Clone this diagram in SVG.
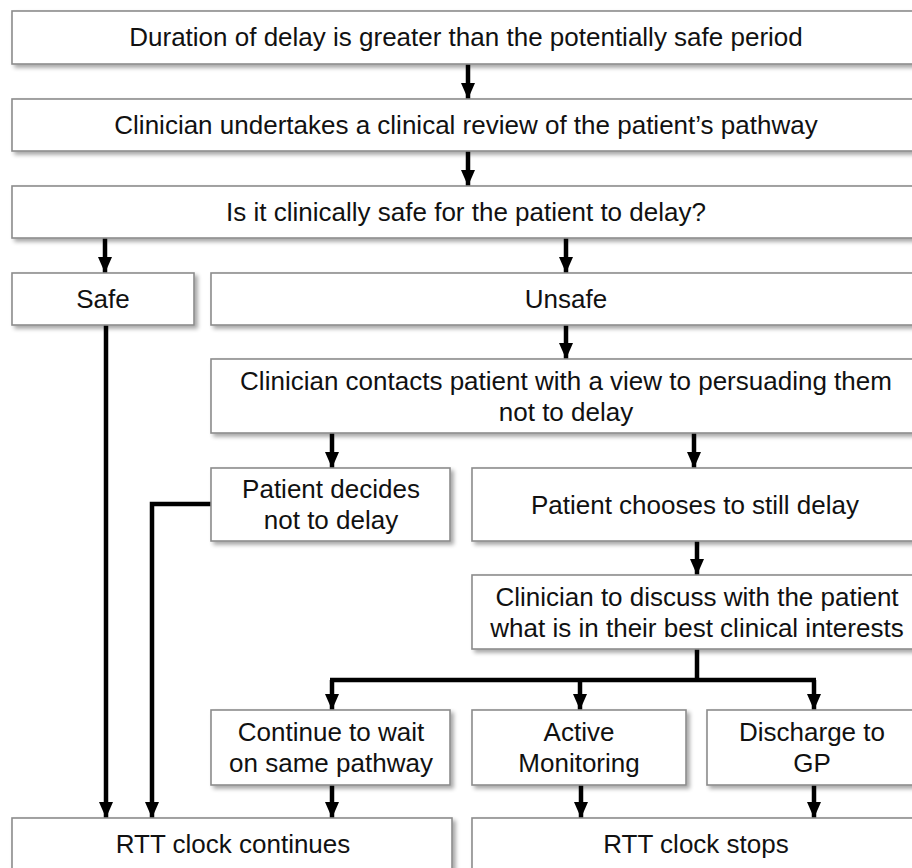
<svg xmlns="http://www.w3.org/2000/svg" width="912" height="868" viewBox="0 0 912 868">
<defs>
<filter id="sh" x="-5%" y="-20%" width="115%" height="160%">
<feGaussianBlur in="SourceAlpha" stdDeviation="2"/>
<feOffset dx="3" dy="3" result="b"/>
<feComponentTransfer><feFuncA type="linear" slope="0.35"/></feComponentTransfer>
<feMerge><feMergeNode/><feMergeNode in="SourceGraphic"/></feMerge>
</filter>
<marker id="ah" viewBox="0 0 16 14" refX="16" refY="7" markerWidth="16" markerHeight="14" markerUnits="userSpaceOnUse" orient="auto">
<path d="M0,0 L16,7 L0,14 Z" fill="#000"/>
</marker>
</defs>
<style>
.box{fill:#fff;stroke:#8c8c8c;stroke-width:1.6;filter:url(#sh)}
text{font-family:"Liberation Sans",Arial,sans-serif;font-size:26px;fill:#111;text-anchor:middle}
.c{fill:none;stroke:#000;stroke-width:4.5}
.a{marker-end:url(#ah)}
</style>
<rect width="912" height="868" fill="#fff"/>
<g id="connectors">
<line class="c a" x1="468" y1="64" x2="468" y2="99"/>
<line class="c a" x1="468" y1="151" x2="468" y2="186"/>
<line class="c a" x1="105" y1="238" x2="105" y2="273"/>
<line class="c a" x1="566" y1="238" x2="566" y2="273"/>
<line class="c a" x1="566" y1="325" x2="566" y2="359"/>
<line class="c a" x1="332" y1="433" x2="332" y2="468"/>
<line class="c a" x1="694" y1="433" x2="694" y2="468"/>
<line class="c a" x1="697" y1="541" x2="697" y2="575"/>
<line class="c a" x1="106" y1="325" x2="106" y2="818"/>
<polyline class="c a" points="211,504 152,504 152,818"/>
<polyline class="c" points="697,649 697,680"/>
<polyline class="c" points="330,680 816,680"/>
<line class="c a" x1="332" y1="680" x2="332" y2="710"/>
<line class="c a" x1="580" y1="680" x2="580" y2="710"/>
<line class="c a" x1="814" y1="680" x2="814" y2="710"/>
<line class="c a" x1="332" y1="785" x2="332" y2="818"/>
<line class="c a" x1="581" y1="785" x2="581" y2="818"/>
<line class="c a" x1="814" y1="785" x2="814" y2="818"/>
</g>
<g id="n1"><rect class="box" x="12" y="11" width="910" height="53"/><text x="466" y="46">Duration of delay is greater than the potentially safe period</text></g>
<g id="n2"><rect class="box" x="12" y="99" width="910" height="52"/><text x="466" y="134">Clinician undertakes a clinical review of the patient’s pathway</text></g>
<g id="n3"><rect class="box" x="12" y="186" width="910" height="52"/><text x="466" y="221">Is it clinically safe for the patient to delay?</text></g>
<g id="safe"><rect class="box" x="12" y="273" width="182" height="52"/><text x="103" y="308">Safe</text></g>
<g id="unsafe"><rect class="box" x="211" y="273" width="711" height="52"/><text x="566" y="308">Unsafe</text></g>
<g id="contacts"><rect class="box" x="211" y="359" width="711" height="74"/><text x="566" y="390">Clinician contacts patient with a view to persuading them</text><text x="566" y="421">not to delay</text></g>
<g id="decides"><rect class="box" x="211" y="468" width="239" height="73"/><text x="331" y="498">Patient decides</text><text x="331" y="529">not to delay</text></g>
<g id="chooses"><rect class="box" x="472" y="468" width="450" height="73"/><text x="695" y="514">Patient chooses to still delay</text></g>
<g id="discuss"><rect class="box" x="472" y="575" width="450" height="74"/><text x="697" y="606">Clinician to discuss with the patient</text><text x="697" y="637">what is in their best clinical interests</text></g>
<g id="continue"><rect class="box" x="211" y="710" width="239" height="75"/><text x="331" y="741">Continue to wait</text><text x="331" y="772">on same pathway</text></g>
<g id="active"><rect class="box" x="472" y="710" width="214" height="75"/><text x="579" y="741">Active</text><text x="579" y="772">Monitoring</text></g>
<g id="discharge"><rect class="box" x="707" y="710" width="215" height="75"/><text x="812" y="741">Discharge to</text><text x="812" y="772">GP</text></g>
<g id="rttc"><rect class="box" x="12" y="818" width="440" height="60"/><text x="233" y="853">RTT clock continues</text></g>
<g id="rtts"><rect class="box" x="472" y="818" width="450" height="60"/><text x="696" y="853">RTT clock stops</text></g>
</svg>
